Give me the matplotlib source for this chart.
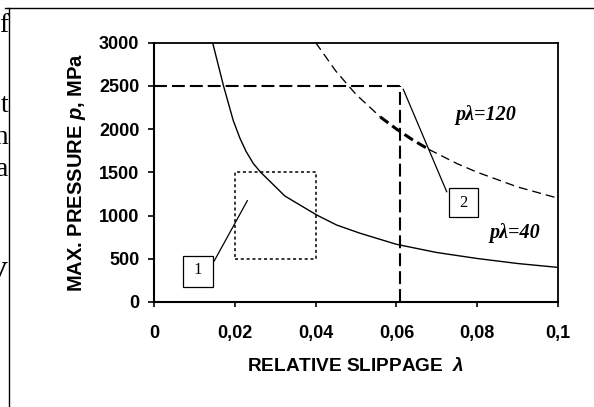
import matplotlib
matplotlib.use("Agg")
import matplotlib.pyplot as plt
from matplotlib.patches import Rectangle
from matplotlib.lines import Line2D

# values
lam_40 = [0.0145, 0.0172, 0.0196, 0.0213, 0.0228, 0.0246, 0.0264, 0.0324,
          0.0403, 0.0452, 0.051, 0.060, 0.070, 0.080, 0.090, 0.100]
p_40 = [3000, 2500, 2100, 1890, 1740, 1600, 1500, 1225,
        1005, 890, 795, 667, 572, 503, 445, 400]

lam_120 = [0.040, 0.045, 0.050, 0.056, 0.060, 0.064, 0.068, 0.075, 0.080, 0.090, 0.100]
p_120 = [3000, 2670, 2400, 2140, 2000, 1875, 1765, 1600, 1500, 1330, 1200]
thick_part = (3, 6)  # index range of the highlighted segment

lam_work = 0.061
p_work = 2500
zone_lam = (0.02, 0.04)
zone_p = (500, 1500)

x_ticks = [0, 0.02, 0.04, 0.06, 0.08, 0.1]
x_labels = ["0", "0,02", "0,04", "0,06", "0,08", "0,1"]
y_ticks = [0, 500, 1000, 1500, 2000, 2500, 3000]

plt.rcParams["font.family"] = ["Liberation Sans", "DejaVu Sans"]
plt.rcParams["mathtext.fontset"] = "custom"
plt.rcParams["mathtext.it"] = "Liberation Sans:italic:bold"
plt.rcParams["mathtext.rm"] = "Liberation Sans:bold"

W, H = 594, 407
fig = plt.figure(figsize=(W / 100, H / 100), dpi=100)
ax = fig.add_axes([154 / W, 105 / H, 404 / W, 259.5 / H])

# curve p*lambda = 40
ax.plot(lam_40, p_40, color="black", lw=1.0, solid_joinstyle="round")

# curve p*lambda = 120, thin dashes with thick highlighted part
i0, i1 = thick_part
ax.plot(lam_120[:i0 + 1], p_120[:i0 + 1], color="black", lw=0.95,
        linestyle=(0, (6.8, 3.8)))
ax.plot(lam_120[i0:i1 + 1], p_120[i0:i1 + 1], color="black", lw=2.2,
        linestyle=(0, (3.3, 1.6)))
ax.plot(lam_120[i1:], p_120[i1:], color="black", lw=0.95,
        linestyle=(0, (6.8, 3.8)))

# working point guide lines
ax.plot([0, lam_work], [p_work, p_work], color="black", lw=1.5,
        linestyle=(0, (6.2, 2.4)))
ax.plot([lam_work, lam_work], [0, p_work], color="black", lw=1.5,
        linestyle=(0, (6.2, 2.4)))

# dotted zone
ax.add_patch(Rectangle((zone_lam[0], zone_p[0]), zone_lam[1] - zone_lam[0],
                       zone_p[1] - zone_p[0], fill=False, color="black",
                       lw=1.1, linestyle=(0, (2, 1.8))))

# callouts
serif = ["Liberation Serif", "DejaVu Serif"]
ax.add_patch(Rectangle((0.0071, 177), 0.0074, 355, fill=False, color="black",
                       lw=0.9, clip_on=False))
ax.text(0.0108, 365, "1", family=serif, fontsize=12, ha="center", va="center")
ax.plot([0.0149, 0.0231], [474, 1171], color="black", lw=0.9)

ax.add_patch(Rectangle((0.0729, 980), 0.0072, 335, fill=False, color="black",
                       lw=0.9, clip_on=False))
ax.text(0.0765, 1150, "2", family=serif, fontsize=12, ha="center", va="center")
ax.plot([0.0617, 0.07245], [2459, 1275], color="black", lw=0.9)

ax.text(0.0822, 2162, "p\u03bb=120", family=serif, fontsize=14.5,
        fontweight="bold", fontstyle="italic", ha="center", va="center")
ax.text(0.0894, 794, "p\u03bb=40", family=serif, fontsize=14.5,
        fontweight="bold", fontstyle="italic", ha="center", va="center")

ax.set_xlim(0, 0.1)
ax.set_ylim(0, 3000)
ax.set_xticks(x_ticks)
ax.set_xticklabels(x_labels)
ax.set_yticks(y_ticks)
for lab in ax.get_xticklabels() + ax.get_yticklabels():
    lab.set_fontweight("bold")
    lab.set_fontsize(13)
ax.tick_params(axis="x", direction="out", length=3.5, width=1.2, pad=13)
ax.tick_params(axis="y", direction="out", length=4, width=1.2, pad=6.5)
for side in ["left", "bottom"]:
    ax.spines[side].set_linewidth(1.5)
for side in ["top", "right"]:
    ax.spines[side].set_linewidth(1.3)

ax.set_xlabel(r"RELATIVE SLIPPAGE  $\lambda$", fontsize=13.7, fontweight="bold",
              labelpad=11)
ax.set_ylabel(r"MAX. PRESSURE $p$, MPa", fontsize=14.5, fontweight="bold",
              labelpad=8)

# page frame and cut text of the surrounding document
fig.add_artist(Line2D([5 / W, 1], [1 - 8.3 / H, 1 - 8.3 / H], color="black",
                      lw=1.0, transform=fig.transFigure))
fig.add_artist(Line2D([8.5 / W, 8.5 / W], [0, 1 - 8.3 / H], color="black",
                      lw=1.0, transform=fig.transFigure))
for txt, y, bold in [("f", 25, False), ("t", 105, False), ("m", 138, False),
                     ("a", 170, False), ("V", 273, True)]:
    fig.text(8 / W, 1 - y / H, txt, family=serif, fontsize=20,
             fontweight="bold" if bold else "normal", ha="right", va="center")

fig.savefig("out.png", dpi=100)
